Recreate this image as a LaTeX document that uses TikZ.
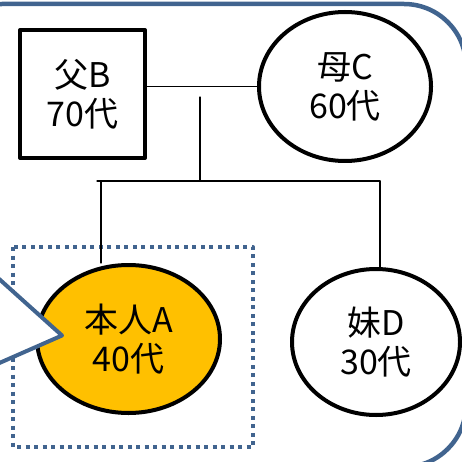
\documentclass[tikz,border=0pt]{standalone}
\usepackage{fontspec}
\newfontfamily\jpfont{Noto Sans CJK JP}
\usetikzlibrary{shapes.geometric}
\definecolor{frameblue}{HTML}{41648F}
\definecolor{selforange}{HTML}{FFC000}
\tikzset{
  person/.style={draw, line width=4pt, align=center, inner sep=0pt},
  male/.style={person, rectangle, minimum width=125, minimum height=128},
  female/.style={person, ellipse},
  tie/.style={line width=1.3pt}
}
\begin{document}
\begin{tikzpicture}[x=1pt, y=-1pt, font=\jpfont\fontsize{34}{39}\selectfont, line join=round, line cap=round]
	\useasboundingbox (0,0) rectangle (462,462);
	\begin{scope}
		\clip (0,0) rectangle (462,462);
		\draw[frameblue, line width=4.5pt, rounded corners=62pt] (-60,4) rectangle (466,467);
	\end{scope}
	\draw[frameblue, line width=4pt, line cap=butt, dash pattern=on 4pt off 4.5pt] (13,247) rectangle (253,447);
	\node[male] (father) at (82.5,94) {父B\\70代};
	\node[female, minimum width=172, minimum height=149] (mother) at (345,86.5) {母C\\60代};
	\node[female, fill=selforange, minimum width=183, minimum height=148] (self) at (128.5,339) {本人A\\40代};
	\node[female, minimum width=168, minimum height=146] (sister) at (376,342) {妹D\\30代};
	\coordinate (kids) at (200,97);
	\coordinate (bar) at (200,181);
	\coordinate (barl) at (97,181);
	\coordinate (barr) at (380,181);
	\coordinate (lt) at (101,181);
	\draw[tie] (father.east |- mother.west) -- (mother.west);
	\draw[tie] (kids) -- (bar);
	\draw[tie] (barl) -- (barr);
	\draw[tie] (lt) -- (lt |- self.north);
	\draw[tie] (barr) -- (barr |- sister.north);
	\coordinate (tail) at (62,335.5);
	\filldraw[fill=white, draw=frameblue, line width=4pt] (-12,269) -- (tail) -- (-12,368);
\end{tikzpicture}
\end{document}
